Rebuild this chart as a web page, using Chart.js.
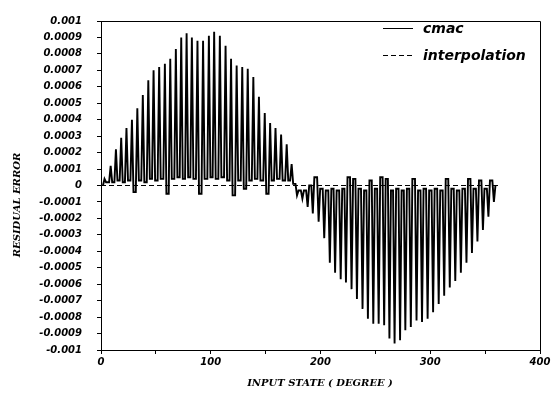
<!DOCTYPE html>
<html>
<head>
<title>Residual error</title>
<script src="https://cdn.jsdelivr.net/npm/chart.js"></script>
<style>
  body { margin: 0; background: #fff; }
</style>
</head>
<body>
<canvas id="errChart" width="553" height="401"></canvas>
<script>
// cmac residual: one spike per cell, its tip and the floor level after it
var spikeDeg = [3.2, 8.8, 13.6, 18.4, 23.2, 28.2, 33.1, 38.1, 43.1, 47.9,
                53.0, 58.2, 63.1, 68.2, 73.1, 78.0, 82.8, 87.9, 93.0, 98.3,
                103.1, 108.3, 113.5, 118.5, 123.6, 128.7, 133.7, 138.8, 143.9, 149.2,
                154.1, 159.0, 164.1, 169.2, 173.7, 178.6, 183.5, 188.3, 193.0, 198.3,
                203.4, 208.5, 213.3, 218.4, 223.2, 228.3, 233.2, 238.3, 243.2, 248.1,
                253.0, 258.0, 262.8, 267.5, 272.5, 277.3, 282.3, 287.5, 292.5, 297.6,
                302.6, 307.7, 312.7, 317.8, 322.8, 327.9, 333.0, 338.0, 343.0, 348.0,
                353.0, 358.0];
var spikeVal = [0.00004, 0.00012, 0.00022, 0.00029, 0.00035, 0.00040, 0.00047, 0.00055, 0.00064, 0.00070,
                0.00072, 0.00074, 0.00077, 0.00083, 0.00090, 0.000925, 0.00090, 0.00088, 0.00088, 0.00091,
                0.000935, 0.00091, 0.00085, 0.00077, 0.00073, 0.00072, 0.00071, 0.00066, 0.00054, 0.00044,
                0.00038, 0.00035, 0.00031, 0.00025, 0.00013, -0.00006, -0.00008, -0.00013, -0.00017, -0.00022,
                -0.00032, -0.00047, -0.00053, -0.00057, -0.00059, -0.00063, -0.00069, -0.00075, -0.00081, -0.00084,
                -0.00084, -0.00085, -0.00093, -0.00096, -0.00094, -0.00088, -0.00086, -0.00082, -0.00083, -0.00081,
                -0.00077, -0.00072, -0.00067, -0.00062, -0.00058, -0.00053, -0.00047, -0.00041, -0.00034, -0.00027,
                -0.00019, -0.00010];
var floorVal = [0.00002, 0.00002, 0.00003, 0.00002, 0.00003, -0.00004, 0.00003, 0.00002, 0.00004, 0.00003,
                0.00004, -0.00005, 0.00004, 0.00005, 0.00004, 0.00005, 0.00004, -0.00005, 0.00004, 0.00005,
                0.00004, 0.00005, 0.00003, -0.00006, 0.00003, -0.00002, 0.00003, 0.00004, 0.00003, -0.00005,
                0.00003, 0.00004, 0.00003, 0.00003, 0.00001, -0.00003, -0.00003, 0.00000, 0.00005, -0.00002,
                -0.00003, -0.00002, -0.00003, -0.00002, 0.00005, 0.00004, -0.00002, -0.00003, 0.00003, -0.00002,
                0.00005, 0.00004, -0.00003, -0.00002, -0.00003, -0.00002, 0.00004, -0.00003, -0.00002, -0.00003,
                -0.00002, -0.00003, 0.00004, -0.00002, -0.00003, -0.00002, 0.00004, -0.00002, 0.00003, -0.00002,
                0.00003, 0.00000];
var spikeHalf = 1.4;   // degrees from a spike tip to its base

// interpolation residual
var interpDeg = [0, 90, 180, 270, 362];
var interpVal = [0, 0, 0, 0, 0];

var yTitle = 'RESIDUAL ERROR';
var xTitle = 'INPUT STATE ( DEGREE )';

var cmacPts = [];
for (var i = 0; i < spikeDeg.length; i++) {
    var before = i === 0 ? 0 : floorVal[i - 1];
    cmacPts.push({ x: spikeDeg[i] - spikeHalf, y: before });
    cmacPts.push({ x: spikeDeg[i], y: spikeVal[i] });
    cmacPts.push({ x: spikeDeg[i] + spikeHalf, y: floorVal[i] });
}
var interpPts = interpDeg.map(function (d, k) { return { x: d, y: interpVal[k] }; });

var tickFont = { family: 'DejaVu Sans', size: 10, weight: 'bold', style: 'italic' };

// box around the plot, legend in the corner, axis titles
var decor = {
    id: 'decor',
    afterDraw: function (chart) {
        var c = chart.ctx, a = chart.chartArea;
        c.save();
        c.strokeStyle = '#000';
        c.lineWidth = 1;
        c.beginPath();
        c.moveTo(a.left, a.top + 0.5);
        c.lineTo(a.right + 0.5, a.top + 0.5);
        c.lineTo(a.right + 0.5, a.bottom);
        c.stroke();

        var sets = chart.data.datasets;
        var rows = [28, 55];
        c.fillStyle = '#000';
        c.font = 'italic bold 14px "DejaVu Sans"';
        c.textBaseline = 'middle';
        sets.forEach(function (ds, k) {
            c.beginPath();
            c.lineWidth = 1;
            c.setLineDash(ds.borderDash || []);
            c.moveTo(383, rows[k] + 0.5);
            c.lineTo(413, rows[k] + 0.5);
            c.stroke();
            c.setLineDash([]);
            c.fillText(ds.label, 423, rows[k] + 1);
        });

        c.font = 'italic bold 10px "DejaVu Serif"';
        c.textAlign = 'center';
        c.fillText(xTitle, 320, 383);
        c.translate(17, 205);
        c.rotate(-Math.PI / 2);
        c.fillText(yTitle, 0, 0);
        c.restore();
    }
};

new Chart(document.getElementById('errChart'), {
    type: 'line',
    data: {
        datasets: [{
            label: 'cmac',
            data: cmacPts,
            borderColor: '#000',
            borderWidth: 1.9,
            pointRadius: 0,
            tension: 0
        }, {
            label: 'interpolation',
            data: interpPts,
            borderColor: '#000',
            borderWidth: 1,
            borderDash: [5, 3],
            pointRadius: 0
        }]
    },
    options: {
        responsive: false,
        animation: false,
        layout: { padding: { top: 10, right: 13, left: 0, bottom: 0 } },
        plugins: { legend: { display: false }, tooltip: { enabled: false } },
        scales: {
            x: {
                type: 'linear',
                min: 0,
                max: 400,
                afterFit: function (s) { s.height = 51; },
                border: { color: '#000', width: 1 },
                grid: { drawOnChartArea: false, color: '#000', tickLength: 4 },
                ticks: {
                    stepSize: 50,
                    color: '#000',
                    font: tickFont,
                    padding: 2,
                    maxRotation: 0,
                    callback: function (v) { return v % 100 === 0 ? v : ''; }
                }
            },
            y: {
                min: -0.001,
                max: 0.001,
                afterFit: function (s) { s.width = 101; },
                border: { color: '#000', width: 1 },
                grid: { drawOnChartArea: false, color: '#000', tickLength: 4 },
                ticks: {
                    stepSize: 0.0001,
                    color: '#000',
                    font: tickFont,
                    padding: 15,
                    callback: function (v) { return String(Math.round(v * 10000) / 10000); }
                }
            }
        }
    },
    plugins: [decor]
});
</script>
</body>
</html>
